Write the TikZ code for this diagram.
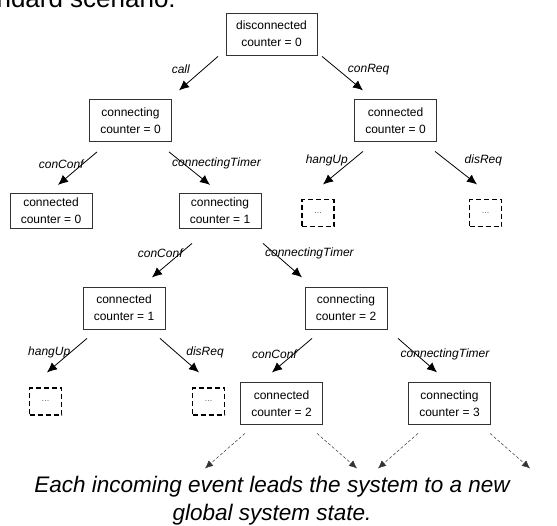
\documentclass[tikz,border=0pt]{standalone}
\usepackage{fontspec}
\setmainfont{Liberation Sans}
\usetikzlibrary{arrows.meta}

\begin{document}
\begin{tikzpicture}[x=1pt, y=-1pt,
	state/.style={draw=black!80, line width=0.8pt, align=center, inner sep=0pt, minimum width=82pt, minimum height=42pt, font=\fontsize{12}{17}\selectfont},
	stub/.style={draw, dashed, line width=1.5pt, dash pattern=on 5pt off 3pt, minimum width=32pt, minimum height=27pt, inner sep=0pt, text=black!60, font=\fontsize{9}{9}\selectfont},
	ev/.style={line width=0.8pt, -{Latex[length=10pt, width=9pt]}},
	nxt/.style={line width=0.5pt, dashed, dash pattern=on 3pt off 2pt, black!80, -{Latex[length=8pt, width=7pt]}},
	lbl/.style={inner sep=0pt, font=\fontsize{12}{12}\selectfont\itshape}]
	\clip (0,0) rectangle (557,525);
	\useasboundingbox (0,0) rectangle (557,525);

	\node [anchor=base west, font=\fontsize{26}{30}\selectfont] (title) at (-46,7) {Standard scenario:};

	\node [state, minimum width=91pt] (disc) at (271.5,34) {disconnected\\counter = 0};
	\node [state] (cing0) at (130.5,120.5) {connecting\\counter = 0};
	\node [state] (cted0a) at (395.5,120.5) {connected\\counter = 0};
	\node [state, minimum height=35pt] (cted0b) at (51,210.5) {connected\\counter = 0};
	\node [state, minimum height=35pt] (cing1) at (220,210.5) {connecting\\counter = 1};
	\node [stub] (stubA) at (318,213) {...};
	\node [stub] (stubB) at (485.5,213) {...};
	\node [state] (cted1) at (124,308) {connected\\counter = 1};
	\node [state] (cing2) at (346,308) {connecting\\counter = 2};
	\node [stub] (stubC) at (45.5,401.5) {...};
	\node [stub] (stubD) at (208.5,401.5) {...};
	\node [state] (cted2) at (281.5,403.5) {connected\\counter = 2};
	\node [state] (cing3) at (449.5,403.5) {connecting\\counter = 3};

	\draw [ev] ([shift={(-53.5,1)}]disc.south) -- ++(-39,34) node [lbl, pos=.38, anchor=east, xshift=-13pt] {call};
	\draw [ev] ([shift={(50.5,1)}]disc.south) -- ++(41,34) node [lbl, pos=.38, anchor=west, xshift=10pt] {conReq};

	\draw [ev] ([shift={(-33.5,10)}]cing0.south) -- ++(-39,33) node [lbl, pos=.36, anchor=east, xshift=1pt] {conConf};
	\draw [ev] ([shift={(38.5,10)}]cing0.south) -- ++(41,33) node [lbl, pos=.36, anchor=west, xshift=-12pt] {connectingTimer};
	\draw [ev] ([shift={(-32.5,9.5)}]cted0a.south) -- ++(-40,33) node [lbl, pos=.27, anchor=east, xshift=-4pt] {hangUp};
	\draw [ev] ([shift={(39.5,9.5)}]cted0a.south) -- ++(42,33) node [lbl, pos=.27, anchor=west, xshift=18pt] {disReq};

	\draw [ev] ([shift={(-28,15)}]cing1.south) -- ++(-40,34) node [lbl, pos=.3, anchor=east, xshift=3pt] {conConf};
	\draw [ev] ([shift={(43,15)}]cing1.south) -- ++(39,34) node [lbl, pos=.3, anchor=west, xshift=-10pt] {connectingTimer};

	\draw [ev] ([shift={(-37,9)}]cted1.south) -- ++(-40,34) node [lbl, pos=.41, anchor=east, xshift=0pt] {hangUp};
	\draw [ev] ([shift={(36,9)}]cted1.south) -- ++(39,34) node [lbl, pos=.41, anchor=west, xshift=10pt] {disReq};
	\draw [ev] ([shift={(-34,9)}]cing2.south) -- ++(-40,34) node [lbl, pos=.47, anchor=east, xshift=4pt] {conConf};
	\draw [ev] ([shift={(52,9)}]cing2.south) -- ++(39,34) node [lbl, pos=.47, anchor=west, xshift=-16pt] {connectingTimer};

	\draw [nxt] ([shift={(-36.5,8.5)}]cted2.south) -- ++(-40,35);
	\draw [nxt] ([shift={(35.5,8.5)}]cted2.south) -- ++(40,35);
	\draw [nxt] ([shift={(-31.5,8.5)}]cing3.south) -- ++(-40,35);
	\draw [nxt] ([shift={(40.5,8.5)}]cing3.south) -- ++(40,35);

	\node [align=center, font=\fontsize{22.5}{28}\selectfont\itshape] (note) at (272,501) {Each incoming event leads the system to a new\\global system state.};
\end{tikzpicture}
\end{document}
